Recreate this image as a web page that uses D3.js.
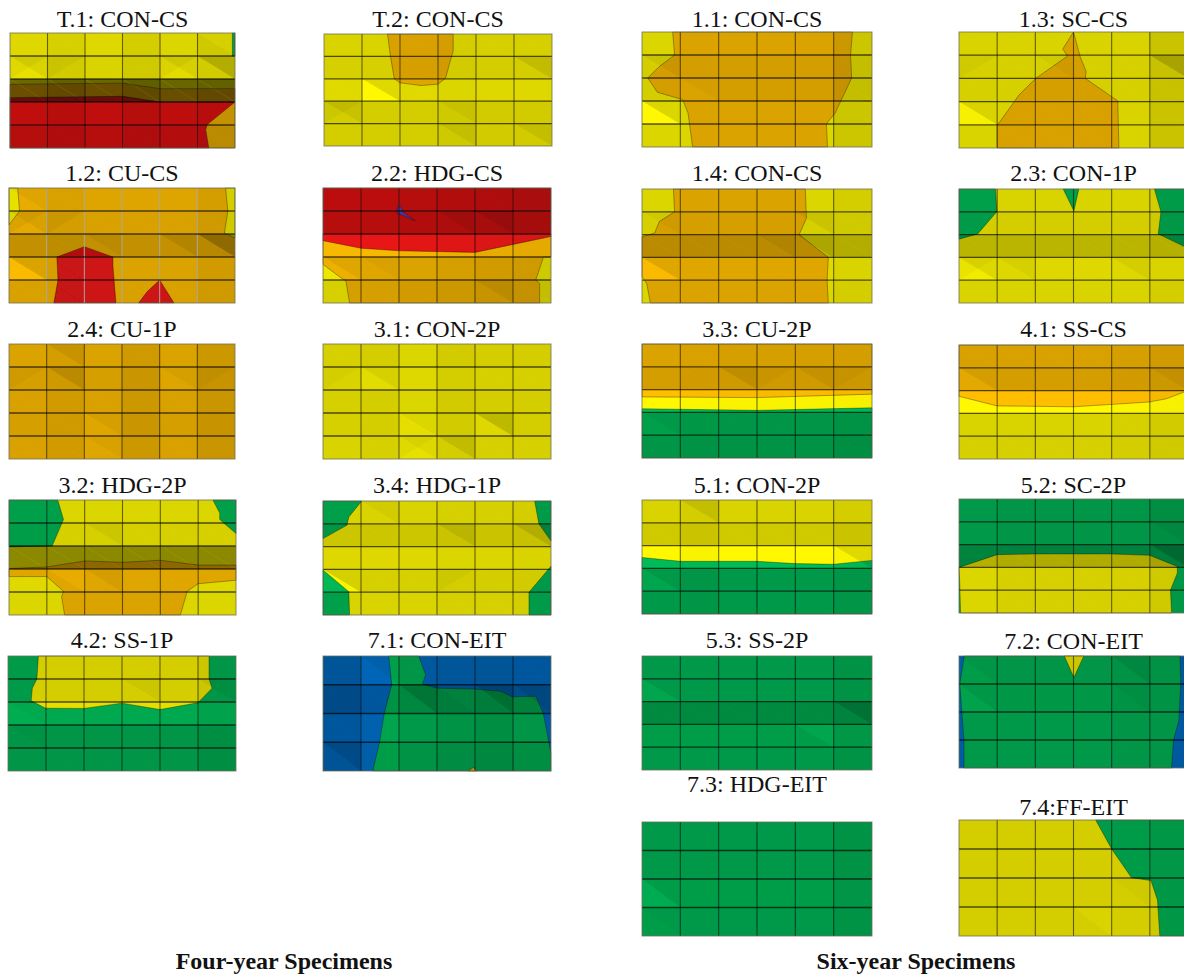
<!DOCTYPE html>
<html>
<head>
<meta charset="utf-8">
<script src="https://d3js.org/d3.v7.min.js"></script>
<style>
html, body { margin: 0; padding: 0; background: #fff; overflow: hidden; }
text { font-family: "Liberation Serif", serif; fill: #111; }
</style>
</head>
<body>
<div id="chart"></div>
<script>
var width = 1184;
var height = 977;

var panelTitles = [
    "T.1: CON-CS", "T.2: CON-CS", "1.2: CU-CS", "2.2: HDG-CS", "2.4: CU-1P", "3.1: CON-2P",
    "3.2: HDG-2P", "3.4: HDG-1P", "4.2: SS-1P", "7.1: CON-EIT",
    "1.1: CON-CS", "1.3: SC-CS", "1.4: CON-CS", "2.3: CON-1P", "3.3: CU-2P", "4.1: SS-CS",
    "5.1: CON-2P", "5.2: SC-2P", "5.3: SS-2P", "7.2: CON-EIT", "7.3: HDG-EIT", "7.4:FF-EIT"
];
var groupTitles = ["Four-year Specimens", "Six-year Specimens"];

// contour band under the whole panel, then the bands lying on it
var baseBands = [
    "yellow", "yellow", "orange", "yellow", "orange", "yellow",
    "yellow", "yellow", "green", "blue",
    "yellow", "yellow", "yellow", "yellow", "yellow", "yellow",
    "yellow", "green", "green", "blue", "green", "yellow"
];

// contour outlines in grid cells: [band, [col, row], ...]
var contourRegions = [
    [["green", [5.93,0],[6,0],[6,1],[5.93,1]],
     ["orange", [0,2.23],[3,2.18],[4,2.42],[6,2.42],[6,5],[0,5]],
     ["red", [0,2.81],[3,2.75],[4,3],[6,3],[5.26,3.98],[5.22,4.2],[5.3,5],[0,5]]],
    [["orange", [1.67,0],[1.75,1],[1.85,2],[2,2.18],[2.55,2.3],[3,2.24],[3.2,1.97],[3.3,1.34],[3.4,0.75],[3.4,0]]],
    [["yellow", [0,0],[0.23,0],[0.28,1],[0,1.6]],
     ["yellow", [5.75,0],[5.81,1],[5.72,1.96],[6,2.17],[6,0]],
     ["red", [1.27,3],[2,2.55],[2.76,3],[2.76,3.4],[2.84,5],[1.19,5],[1.3,4]],
     ["red", [3.44,5],[3.67,4.5],[4,4],[4.38,5]]],
    [["orange", [0,2],[6,2],[6,3],[5.8,3],[5.6,4],[5.7,4.15],[5.7,5],[0.7,5],[0.6,4.02],[0.5,3.94],[0,3.32]],
     ["red", [0,0],[6,0],[6,2.11],[4,2.8],[2,2.73],[1,2.62],[0,2.29]],
     ["purple", [1.97,0.8],[2.04,0.77],[2.12,1.06],[2.43,1.43],[2.07,1.17],[1.94,1.09]]],
    [],
    [],
    [["green", [0,0],[1.29,0],[1.44,0.85],[1.14,2],[0,2.04]],
     ["green", [5.39,0],[5.57,0.57],[5.57,0.85],[6,1.46],[6,0]],
     ["orange", [0,2.98],[1,2.91],[2,2.65],[3,2.71],[4,2.62],[5,2.83],[6,2.83],[6,3.49],[5,3.64],[4.71,3.97],[4.53,5],[1.47,5],[1.39,4.2],[1.44,3.97],[1,3.33],[0,3.33]]],
    [["green", [0,0],[1.02,0],[0.68,0.7],[0.63,1.06],[0,1.65]],
     ["green", [5.57,0],[5.68,1],[6,1.75],[6,0]],
     ["green", [0,3.03],[0.68,3.98],[0.7,5],[0,5]],
     ["green", [6,2.86],[5.42,4],[5.42,5],[6,5]]],
    [["yellow", [0.8,0],[0.76,1],[0.64,1.4],[0.61,1.95],[0.99,2.27],[2,2.28],[3,2.05],[4,2.33],[5,2.03],[5.37,1.4],[5.29,1],[5.29,0]]],
    [["green", [1.73,0],[2.52,0],[2.7,0.65],[2.62,0.98],[3.02,1.12],[4,1.15],[4.69,1.23],[4.98,1.42],[5.6,1.4],[5.8,2.01],[6,3.38],[6,4],[1.31,4],[1.49,2.99],[1.61,2.01],[1.81,1]],
     ["orange", [3.83,4],[3.96,3.87],[4.04,4]]],
    [["orange", [0.8,0],[0.85,1],[0.45,1.5],[0.15,2],[0.4,2.62],[1.06,2.94],[1.2,3.52],[1.32,5],[4.84,5],[4.81,4],[5.04,3.52],[5.47,2],[5.44,1],[5.49,0]]],
    [["orange", [3,0],[3.17,1.04],[3.33,1.7],[3.31,2],[4.16,2.97],[4.19,5],[1,5],[1,4.03],[1.57,2.72],[2.01,2],[2.84,1.04],[2.72,0.73]]],
    [["orange", [0.82,0],[0.85,1],[0.45,1.43],[0.33,1.93],[0,2.1],[0,3.84],[0.12,4.13],[0.22,5],[4.86,5],[4.83,4],[4.86,3],[4.1,2],[4.29,1.28],[4.26,0]]],
    [["green", [0,0],[0.96,0],[0.99,1],[0.49,1.97],[0,2.2]],
     ["green", [2.73,0],[3.14,0],[3.01,0.96]],
     ["green", [5.12,0],[5.29,1],[5.22,1.97],[6,2.6],[6,0]]],
    [["orange", [0,0],[6,0],[6,2.2],[3,2.35],[0,2.32]],
     ["green", [0,2.84],[3,2.91],[6,2.8],[6,5],[0,5]]],
    [["orange", [0,0],[6,0],[6,2],[5.43,2.36],[4.98,2.5],[3,2.71],[1,2.67],[0,2.25]]],
    [["green", [0,2.52],[1,2.69],[3,2.69],[4,2.79],[5,2.82],[6,2.65],[6,5],[0,5]]],
    [["yellow", [0,3],[1,2.44],[2,2.41],[4,2.41],[4.99,2.47],[5.72,2.96],[5.72,3.25],[5.54,4],[5.57,5],[0.04,5],[0.02,3.7]]],
    [],
    [["green", [0.14,0],[0.02,1],[0.13,3],[0.13,4],[5.57,4],[5.62,3],[5.76,2.3],[5.81,1],[5.79,0]],
     ["yellow", [2.76,0],[3.27,0],[3.01,0.77]]],
    [],
    [["green", [3.58,0],[4,1],[4.52,1.99],[5.03,2.09],[5.2,2.76],[5.26,4],[6,4],[6,0]]]
];

// facet shading, percent of darkening, read per mesh row and per mesh column
var rowDarkness = [
    [13,15,58,20,24], [15,16,12,17,17], [13,15,24,14,15], [22,24,3,12,16], [14,16,15,16,15], [16,15,16,16,15],
    [14,16,45,12,14], [15,20,13,16,15], [17,17,10,20,20], [20,28,18,22],
    [14,17,17,14,14], [15,16,16,15,15], [14,16,27,12,14], [15,17,27,13,15], [14,17,0,18,20], [15,17,0,15,16],
    [15,19,0,18,18], [18,18,29,14,14], [18,18,26,16,18], [20,19,18,18], [18,18,16,18], [17,17,17,17]
];
var colDarkness = [
    [0,3,0,4,1,3], [0,0,0,2,1,1], [0,2,0,0,0,4], [0,0,2,4,6,7], [0,3,0,5,0,6], [0,1,-2,2,1,1],
    [0,0,0,0,0,0], [0,0,0,1,1,2], [0,0,0,0,0,3], [4,-6,0,3,5,2],
    [0,0,0,0,0,6], [0,0,0,0,0,6], [0,0,0,0,0,3], [0,0,0,0,0,2], [0,1,2,2,2,3], [0,0,0,0,1,3],
    [0,2,0,0,0,2], [0,2,2,2,2,5], [0,0,0,0,0,3], [0,0,0,0,2,2], [0,0,0,0,0,4], [0,0,0,0,0,2]
];
// single facets standing out: [panel, row, col, half, percent]
// halves l and u split on the falling diagonal, a is a faint upper-left wedge on top
var facetAccents = [
    [0,1,0,"l",-6],[0,1,4,"l",-5],[0,1,5,"u",12],[0,0,5,"l",3],[0,1,0,"a",4],[0,1,1,"a",3],[0,1,4,"a",4],
    [1,2,1,"l",-12],[1,1,5,"u",7],[1,3,0,"u",5],[1,3,3,"u",3],[1,4,3,"u",4],[1,4,5,"u",5],[1,3,0,"a",3],
    [2,0,0,"l",-4],[2,1,0,"l",-5],[2,2,5,"u",16],[2,2,4,"u",6],[2,3,0,"l",-12],[2,2,2,"u",3],[2,1,0,"a",4],[2,1,1,"a",4],
    [3,1,3,"u",5],[3,1,4,"u",7],[3,3,1,"u",3],[3,4,4,"u",5],[3,3,0,"l",-5],
    [4,0,1,"u",5],[4,1,1,"u",8],[4,3,2,"l",-4],[4,4,2,"l",-3],[4,1,4,"l",-3],[4,1,0,"a",3],[4,1,5,"a",3],
    [5,1,1,"l",-5],[5,3,2,"l",-4],[5,3,4,"u",9],[5,3,4,"l",-4],[5,4,2,"l",-4],[5,4,3,"u",7],[5,1,0,"a",2],[5,4,2,"a",3],
    [6,1,2,"u",4],[6,3,1,"u",-3],[6,3,2,"u",5],
    [7,0,1,"u",3],[7,1,3,"u",6],[7,1,5,"u",8],[7,3,0,"l",-15],[7,3,3,"a",3],
    [8,1,3,"u",3],[8,1,5,"u",4],[8,2,0,"l",-3],[8,3,0,"u",2],
    [9,0,1,"l",-5],[9,1,2,"u",10],[9,1,3,"l",2],[9,3,0,"u",6],[9,1,5,"u",6],[9,1,4,"u",8],
    [10,3,0,"l",-14],[10,2,1,"l",-3],[10,1,0,"u",4],
    [11,3,0,"l",-12],[11,1,5,"u",12],[11,1,2,"u",3],[11,1,0,"a",3],
    [12,3,0,"l",-10],[12,2,3,"u",4],[12,2,4,"u",6],[12,1,4,"u",5],[12,1,0,"u",3],
    [13,3,0,"l",-8],[13,3,1,"u",3],[13,3,4,"u",4],[13,3,0,"a",3],
    [14,1,2,"u",6],[14,1,4,"u",4],[14,3,0,"l",-4],[14,1,3,"a",3],[14,1,5,"a",3],
    [15,1,0,"l",-6],[15,1,5,"u",4],
    [16,0,1,"u",6],[16,2,5,"u",10],[16,3,0,"l",-7],
    [17,2,5,"u",10],[17,1,5,"u",4],
    [18,1,0,"l",-7],[18,2,5,"u",10],[18,3,4,"u",-5],
    [19,0,0,"l",-4],[19,1,0,"l",-6],[19,0,4,"u",5],[19,1,4,"u",3],
    [20,2,0,"l",-8],[20,3,0,"l",-2],
    [21,3,3,"u",-2],[21,2,4,"u",2]
];
var greyVerticals = ["1.2: CU-CS"];

// layout of the sheet: left, top, right, bottom of every panel and its title baseline
var panelBoxes = [
    [10,33,235,148],[324,34,552,146],[9,188,235,303],[323,188,551,303],[9,344,235,459],[323,344,551,459],
    [9,500,236,615],[323,501,551,615],[8,656,236,771],[323,656,551,771],
    [642,32,872,147],[959,32,1188,148],[642,189,872,303],[959,189,1188,303],[642,344,872,458],[959,345,1188,459],
    [642,500,872,614],[959,499,1188,613],[642,656,872,770],[959,656,1188,768],[642,822,872,936],[959,820,1188,936]
];
var titleBaselines = [27,27,181,181,337,337,493,493,648,648,27,27,181,181,337,337,493,493,648,649,792,815];
var groupCentres = [284, 916];

var bandColor = d3.scaleOrdinal()
    .domain(["yellow", "orange", "red", "green", "blue", "purple"])
    .range(["#fff800", "#ffbe00", "#f01616", "#00bb58", "#0070c8", "#6a46c4"]);

var svg = d3.select("#chart").append("svg")
    .attr("width", width)
    .attr("height", height)
    .style("display", "block");

var defs = svg.append("defs");
defs.append("filter")
    .attr("id", "soft")
    .attr("x", "-2%").attr("y", "-2%").attr("width", "104%").attr("height", "104%")
    .append("feGaussianBlur")
    .attr("stdDeviation", 0.55);

var outline = d3.line();

panelTitles.forEach(function (title, i) {
    var box = panelBoxes[i];
    var nRows = rowDarkness[i].length;
    var x = d3.scaleLinear().domain([0, 6]).range([box[0], box[2]]);
    var y = d3.scaleLinear().domain([0, nRows]).range([box[1], box[3]]);
    var toPixel = function (p) { return [x(p[0]), y(p[1])]; };

    svg.append("text")
        .attr("x", (box[0] + box[2]) / 2)
        .attr("y", titleBaselines[i])
        .attr("text-anchor", "middle")
        .style("font-size", "24px")
        .text(title);

    var g = svg.append("g").attr("filter", "url(#soft)");

    g.append("rect")
        .attr("x", x(0)).attr("y", y(0))
        .attr("width", x(6) - x(0)).attr("height", y(nRows) - y(0))
        .attr("fill", bandColor(baseBands[i]));

    // contour bands
    g.selectAll("path.band")
        .data(contourRegions[i])
        .enter().append("path")
        .attr("class", "band")
        .attr("d", function (d) { return outline(d.slice(1).map(toPixel)) + "Z"; })
        .attr("fill", function (d) { return bandColor(d[0]); })
        .attr("stroke", "#000")
        .attr("stroke-opacity", 0.4)
        .attr("stroke-width", 0.8);

    // every mesh cell is two facets split on the falling diagonal
    var facets = [];
    d3.range(nRows).forEach(function (r) {
        d3.range(6).forEach(function (c) {
            var dark = rowDarkness[i][r] + colDarkness[i][c];
            ["l", "u"].forEach(function (half) {
                var extra = d3.sum(facetAccents, function (a) {
                    return a[0] === i && a[1] === r && a[2] === c && a[3] === half ? a[4] : 0;
                });
                facets.push({ r: r, c: c, half: half, dark: Math.max(0, dark + extra) });
            });
        });
    });
    g.selectAll("path.facet")
        .data(facets)
        .enter().append("path")
        .attr("class", "facet")
        .attr("d", function (d) {
            var corner = d.half === "l" ? [d.c, d.r + 1] : [d.c + 1, d.r];
            return outline([[d.c, d.r], corner, [d.c + 1, d.r + 1]].map(toPixel)) + "Z";
        })
        .attr("fill", "#000")
        .attr("fill-opacity", function (d) { return d.dark / 100; });

    g.selectAll("path.wedge")
        .data(facetAccents.filter(function (a) { return a[0] === i && a[3] === "a"; }))
        .enter().append("path")
        .attr("class", "wedge")
        .attr("d", function (a) {
            var r = a[1], c = a[2];
            return outline([[c, r], [c + 1, r], [c, r + 1]].map(toPixel)) + "Z";
        })
        .attr("fill", "#000")
        .attr("fill-opacity", function (a) { return a[4] / 100; });

    // mesh lines
    var grey = greyVerticals.indexOf(title) >= 0;
    g.selectAll("line.v")
        .data(d3.range(1, 6))
        .enter().append("line")
        .attr("class", "v")
        .attr("x1", x).attr("x2", x)
        .attr("y1", y(0)).attr("y2", y(nRows))
        .attr("stroke", grey ? "#a8a8a0" : "#000")
        .attr("stroke-opacity", grey ? 0.9 : 0.55)
        .attr("stroke-width", 1.1);
    g.selectAll("line.h")
        .data(d3.range(1, nRows))
        .enter().append("line")
        .attr("class", "h")
        .attr("x1", x(0)).attr("x2", x(6))
        .attr("y1", y).attr("y2", y)
        .attr("stroke", "#000")
        .attr("stroke-opacity", 0.65)
        .attr("stroke-width", 1.3);

    g.append("rect")
        .attr("x", x(0)).attr("y", y(0))
        .attr("width", x(6) - x(0)).attr("height", y(nRows) - y(0))
        .attr("fill", "none")
        .attr("stroke", "#6e6e5a")
        .attr("stroke-opacity", 0.8)
        .attr("stroke-width", 1);
});

svg.selectAll("text.group")
    .data(groupTitles)
    .enter().append("text")
    .attr("class", "group")
    .attr("x", function (d, i) { return groupCentres[i]; })
    .attr("y", 969)
    .attr("text-anchor", "middle")
    .style("font-size", "24px")
    .style("font-weight", "bold")
    .text(function (d) { return d; });
</script>
</body>
</html>
